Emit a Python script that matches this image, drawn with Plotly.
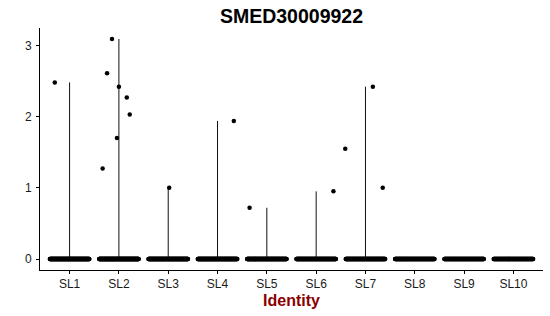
import numpy as np
import plotly.graph_objects as go

# ---- data ----
clusters = ["SL1", "SL2", "SL3", "SL4", "SL5", "SL6", "SL7", "SL8", "SL9", "SL10"]
# number of cells with zero expression per cluster (estimated)
n_zero = [200, 220, 200, 190, 180, 170, 170, 160, 150, 140]
# non-zero expression values per cluster
nonzero_expr = [
    [2.48],
    [3.09, 2.61, 2.42, 2.27, 2.03, 1.70, 1.27],
    [1.00],
    [1.94],
    [0.72],
    [0.95],
    [1.55, 2.42, 1.00],
    [],
    [],
    [],
]
# horizontal jitter of the non-zero points (category units)
nonzero_jitter = [
    [-0.30],
    [-0.14, -0.24, 0.00, 0.16, 0.22, -0.04, -0.33],
    [0.02],
    [0.33],
    [-0.35],
    [0.35],
    [-0.41, 0.15, 0.35],
    [],
    [],
    [],
]

FONT = "Liberation Sans, Arial, sans-serif"

fig = go.Figure()

# violin outlines (collapsed to a line from 0 to group max)
vx, vy = [], []
for i, vals in enumerate(nonzero_expr):
    if vals:
        vx += [i + 1, i + 1, None]
        vy += [0, max(vals), None]
fig.add_trace(go.Scatter(x=vx, y=vy, mode="lines",
                         line=dict(color="#111111", width=1),
                         hoverinfo="skip", showlegend=False))

# jittered points
px, py = [], []
for i, (nz, vals, jit) in enumerate(zip(n_zero, nonzero_expr, nonzero_jitter)):
    offs = np.linspace(-0.4, 0.4, nz)
    px += list(i + 1 + offs)
    py += [0.0] * nz
    px += [i + 1 + j for j in jit]
    py += list(vals)
fig.add_trace(go.Scatter(x=px, y=py, mode="markers",
                         marker=dict(color="black", size=4.5, line=dict(width=0)),
                         showlegend=False))

ymax = max(max(v) for v in nonzero_expr if v)
pad = 0.05 * ymax

axis_common = dict(showline=True, linecolor="black", linewidth=1,
                   ticks="outside", ticklen=3, tickcolor="black", tickwidth=1,
                   showgrid=False, zeroline=False,
                   tickfont=dict(family=FONT, size=12, color="#1a1a1a"))

fig.update_layout(
    width=550, height=316,
    margin=dict(l=40, r=7, t=28, b=46),
    paper_bgcolor="white", plot_bgcolor="white",
    title=dict(text="<b>SMED30009922</b>", x=0.5, xref="paper",
               y=1 - 16 / 316, yref="container", yanchor="middle",
               font=dict(family=FONT, size=19.5, color="black")),
    xaxis=dict(range=[0.4, len(clusters) + 0.6],
               tickvals=list(range(1, len(clusters) + 1)), ticktext=clusters,
               title=dict(text="<b>Identity</b>", standoff=4,
                          font=dict(family=FONT, size=16, color="#8B0000")),
               **axis_common),
    yaxis=dict(range=[-pad, ymax + pad], tickvals=[0, 1, 2, 3],
               ticklabelstandoff=2,
               **axis_common),
)

fig.write_html("out.html")
